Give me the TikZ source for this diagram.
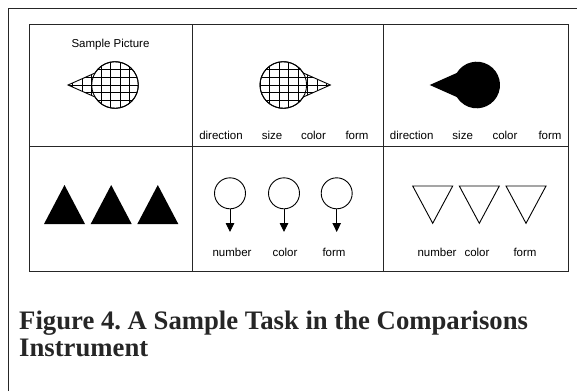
\documentclass[tikz,border=0pt]{standalone}
\usepackage{fontspec}
\setmainfont{Liberation Serif}
\setsansfont{Liberation Sans}
\usetikzlibrary{arrows.meta}

% outline of a drop: circle (centre #1,#2) joined to a narrow cone whose tip
% lies 47 units away in direction #3 (0 = right, 180 = left)
\newcommand{\dropoutline}[3]{%
  (#1,#2) ++(#3:47) -- ([shift={(#1,#2)}]#3+31:23.3)
  arc[start angle=#3+31, end angle=#3+329, radius=23.3] -- cycle}

% cross-hatched drop
\newcommand{\hatchdrop}[3]{%
  \begin{scope}
    \clip \dropoutline{#1}{#2}{#3};
    \foreach \k in {-5,...,6}
      \draw[hatch] (#1-13.7+9.5*\k,#2-30) -- (#1-13.7+9.5*\k,#2+30);
    \foreach \k in {-3,...,3}
      \draw[hatch] (#1-50,#2+7.8*\k) -- (#1+50,#2+7.8*\k);
  \end{scope}
  \draw[outline] (#1,#2) circle[radius=23.3];
  \draw[outline] \dropoutline{#1}{#2}{#3};}

\begin{document}
\begin{tikzpicture}[x=1pt,y=-1pt,
  frame/.style={line width=1pt, draw=black!85},
  outline/.style={line width=0.9pt, line join=miter},
  hatch/.style={line width=0.7pt},
  lbl/.style={font=\sffamily\fontsize{11.5}{13}\selectfont, inner sep=0pt, anchor=base},
  ring/.style={draw, line width=0.9pt, circle, minimum size=31pt, inner sep=0pt},
  pointer/.style={line width=0.9pt, -{Triangle[length=9pt,width=8.5pt]}},
  solidtri/.style={fill=black},
  opentri/.style={draw, line width=0.9pt, line join=miter},
  caption/.style={font=\rmfamily\bfseries\fontsize{26.7}{27}\selectfont, inner sep=0pt, anchor=base west, text=black!85}]

\useasboundingbox (0,0) rectangle (577,391);

% page frame (left and top edges)
\draw[frame] (8,391) -- (8,8) -- (577,8);

% table grid
\draw[frame] (29,24) rectangle (568,271);
\draw[frame] (192,24) -- (192,271);
\draw[frame] (383,24) -- (383,271);
\draw[frame] (29,146) -- (568,146);

% row 1, cell 1: sample picture
\node[lbl] (sample) at (110.5,47.5) {Sample Picture};
\hatchdrop{115}{85}{180}

% row 1, cell 2
\hatchdrop{283.3}{85}{0}
\node[lbl] (d2) at (221,139) {direction};
\node[lbl] (s2) at (272,139) {size};
\node[lbl] (c2) at (313.5,139) {color};
\node[lbl] (f2) at (357,139) {form};

% row 1, cell 3
\fill \dropoutline{476.7}{85}{180};
\node[lbl] (d3) at (411.7,139) {direction};
\node[lbl] (s3) at (462.7,139) {size};
\node[lbl] (c3) at (505,139) {color};
\node[lbl] (f3) at (550,139) {form};

% row 2, cell 1: solid triangles
\fill[solidtri] (44,224) -- (64.5,185) -- (85,224) -- cycle;
\fill[solidtri] (90.7,224) -- (111.2,185) -- (131.7,224) -- cycle;
\fill[solidtri] (137.3,224) -- (157.8,185) -- (178.3,224) -- cycle;

% row 2, cell 2: circles with pointers
\node[ring] (r1) at (230,193.3) {};
\node[ring] (r2) at (284,193.3) {};
\node[ring] (r3) at (336.7,193.3) {};
\coordinate (t1) at (230,232);
\coordinate (t2) at (284,232);
\coordinate (t3) at (336.7,232);
\draw[pointer] (r1.south) -- (t1);
\draw[pointer] (r2.south) -- (t2);
\draw[pointer] (r3.south) -- (t3);
\node[lbl] (n5) at (232,256) {number};
\node[lbl] (c5) at (285,256) {color};
\node[lbl] (f5) at (334,256) {form};

% row 2, cell 3: open inverted triangles
\draw[opentri] (412.7,186) -- (452.7,186) -- (432.7,223.3) -- cycle;
\draw[opentri] (459.3,186) -- (499.3,186) -- (479.3,223.3) -- cycle;
\draw[opentri] (506,186) -- (546,186) -- (526,223.3) -- cycle;
\node[lbl] (n6) at (437,256) {number};
\node[lbl] (c6) at (477,256) {color};
\node[lbl] (f6) at (525,256) {form};

% caption
\node[caption] (cap1) at (19,329) {Figure 4.\ A Sample Task in the Comparisons};
\node[caption] (cap2) at (19,356) {Instrument};
\end{tikzpicture}
\end{document}
